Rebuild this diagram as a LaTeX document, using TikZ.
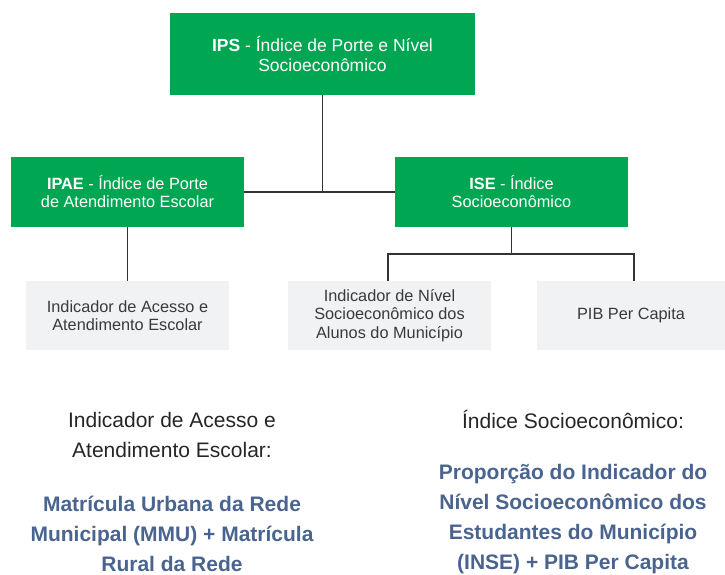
\documentclass[tikz,border=0pt]{standalone}
\usepackage{fontspec}
\setmainfont{Liberation Sans}
\definecolor{boxgreen}{HTML}{00A651}
\definecolor{boxgray}{HTML}{F1F2F4}
\definecolor{txtgray}{HTML}{3A3A3A}
\definecolor{linegray}{HTML}{333333}
\definecolor{blueish}{HTML}{4A6490}
\begin{document}
\begin{tikzpicture}[x=1pt,y=-1pt,
  greenbox/.style={fill=boxgreen,text=white,inner sep=0pt,align=center,
    font=\fontsize{16.3}{18}\selectfont},
  graybox/.style={fill=boxgray,text=txtgray,inner sep=0pt,align=center,
    minimum width=203pt,minimum height=69pt,font=\fontsize{16.3}{18.3}\selectfont},
  conn/.style={draw=linegray,line width=1.3pt},
  plaintxt/.style={text=black!85,align=center,inner sep=0pt,font=\fontsize{21}{30}\selectfont},
  bluetxt/.style={text=blueish,align=center,inner sep=0pt,font=\fontsize{21}{30}\selectfont\bfseries}]
\useasboundingbox (0,0) rectangle (725,575);
\node[greenbox,minimum width=305pt,minimum height=82pt,font=\fontsize{17.5}{20}\selectfont] (ips) at (322.5,54)
  {\textbf{IPS} - Índice de Porte e Nível\\Socioeconômico};
\node[greenbox,minimum width=233pt,minimum height=70pt] (ipae) at (127.5,192)
  {\textbf{IPAE} - Índice de Porte\\de Atendimento Escolar};
\node[greenbox,minimum width=233pt,minimum height=70pt] (ise) at (511.5,192)
  {\textbf{ISE} - Índice\\Socioeconômico};
\node[graybox] (g1) at (127.5,315.5) {Indicador de Acesso e\\Atendimento Escolar};
\node[graybox] (g2) at (389.5,315.5) {Indicador de Nível\\Socioeconômico dos\\Alunos do Município};
\node[graybox,minimum width=188pt] (g3) at (631,315.5) {PIB Per Capita};
\coordinate (j) at (511.5,254);
\draw[conn] (ips.south) -- (ips.south |- ipae.east);
\draw[conn] (ipae.east) -- (ise.west);
\draw[conn] (ipae.south) -- (g1.north);
\draw[conn] (ise.south) -- (j);
\draw[conn] ([xshift=-1.5pt]g2.north) |- (j) -| ([xshift=3pt]g3.north);
\node[plaintxt] (t1) at (172,435) {Indicador de Acesso e\\Atendimento Escolar:};
\node[bluetxt] (t2) at (172,534) {Matrícula Urbana da Rede\\Municipal (MMU) + Matrícula\\Rural da Rede};
\node[plaintxt] (t3) at (573,419) {Índice Socioeconômico:};
\node[bluetxt] (t4) at (573,519.5) {Proporção do Indicador do\\Nível Socioeconômico dos\\Estudantes do Município\\(INSE) + PIB Per Capita};
\end{tikzpicture}
\end{document}
